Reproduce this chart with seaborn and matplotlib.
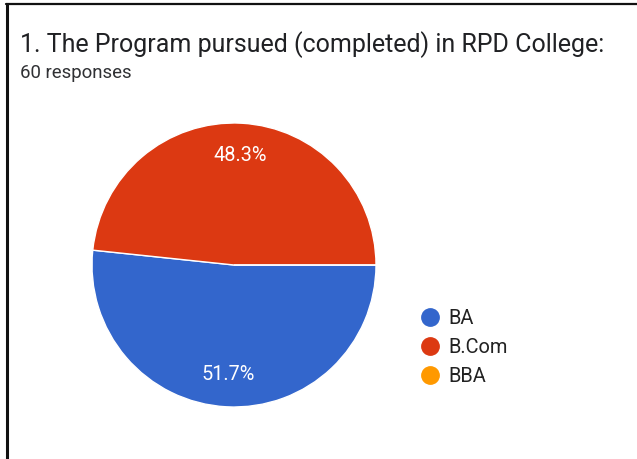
import matplotlib
matplotlib.use("Agg")
import matplotlib.pyplot as plt
from matplotlib.lines import Line2D
import seaborn as sns

# Survey data
programs = ["BA", "B.Com", "BBA"]
counts = [31, 29, 0]
colors = ["#3366cc", "#dc3912", "#ff9900"]
title = "1. The Program pursued (completed) in RPD College:"
subtitle = "60 responses"

sns.set_theme(style="white")
plt.rcParams["font.family"] = ["Roboto", "DejaVu Sans"]

W, H = 637, 459
fig = plt.figure(figsize=(W / 100, H / 100), dpi=100)
fig.patch.set_facecolor("white")


def fx(px):
    return px / W


def fy(py):
    return 1 - py / H


# Card border (top and left edges)
fig.add_artist(Line2D([fx(6), fx(637)], [fy(4), fy(4)], color="#111111", lw=1.6,
                      transform=fig.transFigure))
fig.add_artist(Line2D([fx(7), fx(7)], [fy(4), fy(459)], color="#111111", lw=2.2,
                      transform=fig.transFigure))

fig.text(fx(20), fy(52), title, fontsize=18.0, color="#202124",
         va="baseline", ha="left")
fig.text(fx(20), fy(78), subtitle, fontsize=13.4, color="#303134",
         va="baseline", ha="left")

# Pie
cx, cy, r = 234, 265, 142
ax = fig.add_axes([fx(cx - r), fy(cy + r), (2 * r) / W, (2 * r) / H])


def fmt(p):
    return f"{p:.1f}%" if p > 0 else ""


wedges, texts, autotexts = ax.pie(
    counts, colors=colors, startangle=0, counterclock=False,
    autopct=fmt, pctdistance=0.77,
    wedgeprops=dict(edgecolor="white", linewidth=1.0),
    textprops=dict(color="white", fontsize=14.3),
)
ax.set_xlim(-1, 1)
ax.set_ylim(-1, 1)
ax.set_aspect("equal")
ax.axis("off")

# Legend with round markers
handles = [Line2D([0], [0], marker="o", linestyle="none", markersize=12.5,
                  markerfacecolor=c, markeredgecolor=c) for c in colors]
fig.legend(handles, programs, loc="upper left",
           bbox_to_anchor=(fx(420), fy(309)), frameon=False,
           fontsize=14.4, handlelength=1.0, handletextpad=0.4,
           labelspacing=0.5, borderaxespad=0, borderpad=0,
           labelcolor="#222222")

fig.savefig("out.png", dpi=100, facecolor="white")
